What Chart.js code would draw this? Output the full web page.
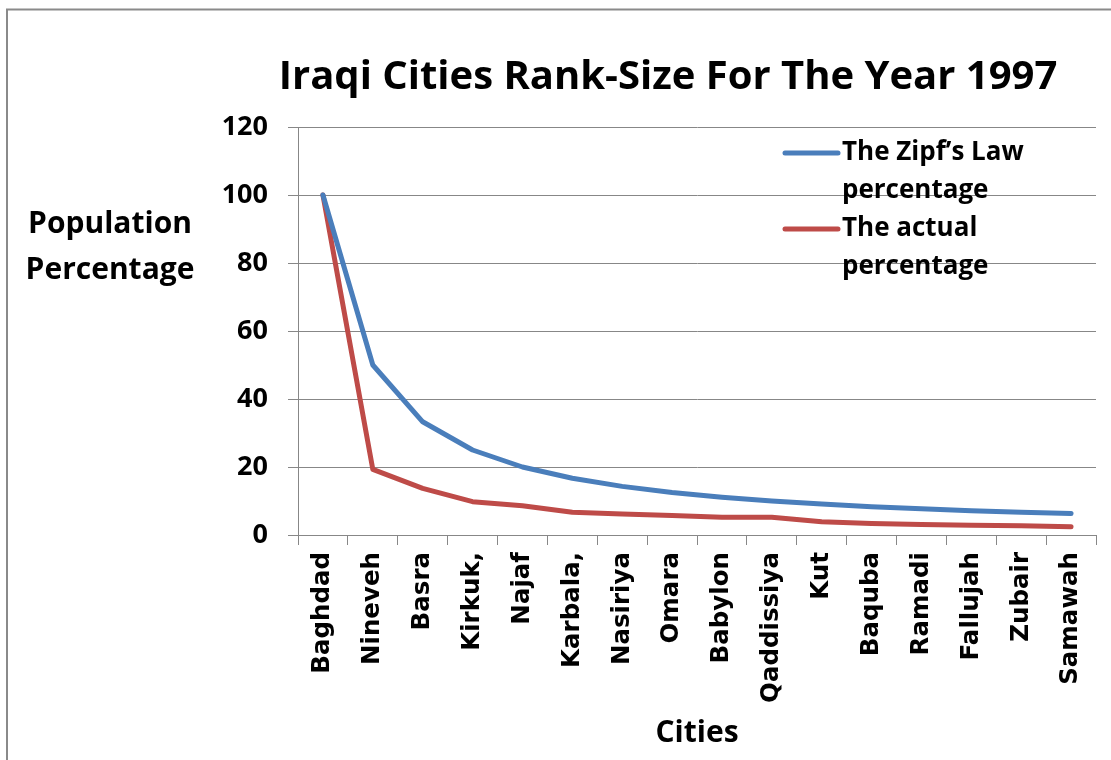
<!DOCTYPE html>
<html>
<head>
<meta charset="utf-8">
<title>Iraqi Cities Rank-Size 1997</title>
<script src="https://cdn.jsdelivr.net/npm/chart.js@4.4.1/dist/chart.umd.min.js"></script>
<style>
  html, body { margin: 0; padding: 0; background: #fff; }
  #wrap { position: relative; width: 1111px; height: 760px; }
</style>
</head>
<body>
<div id="wrap"><canvas id="chart" width="1111" height="760"></canvas></div>
<script>
// data
const cities = ['Baghdad', 'Nineveh', 'Basra', 'Kirkuk,', 'Najaf', 'Karbala,', 'Nasiriya', 'Omara',
  'Babylon', 'Qaddissiya', 'Kut', 'Baquba', 'Ramadi', 'Fallujah', 'Zubair', 'Samawah'];
const zipfPct = [100, 50, 33.3, 25, 20, 16.7, 14.3, 12.5, 11.1, 10, 9.1, 8.3, 7.7, 7.1, 6.7, 6.3];
const actualPct = [100, 19.3, 13.7, 9.8, 8.6, 6.7, 6.2, 5.7, 5.2, 5.2, 3.9, 3.4, 3.1, 2.9, 2.7, 2.4];
const yTicks = [0, 20, 40, 60, 80, 100, 120];

const seriesNames = [['The Zipf\u2019s Law', 'percentage'], ['The actual', 'percentage']];
const seriesColors = ['#4A7EBB', '#BE4B48'];

const FONT = '"Open Sans", Lato, sans-serif';
const WIDE = '"DejaVu Sans", Verdana, sans-serif';
const GRID = '#878787';

// title, horizontal y-axis title, legend and frame drawn like Excel does
const excelDecor = {
  id: 'excelDecor',
  beforeDraw(chart) {
    const ctx = chart.ctx;
    ctx.save();
    ctx.strokeStyle = '#8a8a8a';
    ctx.lineWidth = 2;
    ctx.beginPath();
    ctx.moveTo(7, 770);
    ctx.lineTo(7, 9.5);
    ctx.lineTo(1120, 9.5);
    ctx.stroke();
    ctx.restore();
  },
  afterDatasetsDraw(chart) {
    const ctx = chart.ctx;
    const area = chart.chartArea;
    ctx.save();
    ctx.fillStyle = '#000';
    ctx.textBaseline = 'middle';

    // chart title
    ctx.font = 'bold 40px ' + FONT;
    ctx.textAlign = 'center';
    ctx.fillText('Iraqi Cities Rank-Size For The Year 1997', 668, 78);

    // y axis title, written horizontally
    ctx.font = 'bold 30px ' + FONT;
    ctx.fillText('Population', 110, 224);
    ctx.fillText('Percentage', 110, 270);

    // legend
    ctx.font = 'bold 26px ' + FONT;
    ctx.textAlign = 'left';
    const rowY = [153, 229];
    seriesNames.forEach((lines, i) => {
      ctx.strokeStyle = seriesColors[i];
      ctx.lineWidth = 5;
      ctx.lineCap = 'round';
      ctx.beginPath();
      ctx.moveTo(area.left + 487, rowY[i]);
      ctx.lineTo(area.left + 540, rowY[i]);
      ctx.stroke();
      lines.forEach((t, j) => ctx.fillText(t, area.left + 544, rowY[i] + j * 38));
    });
    ctx.restore();
  }
};

new Chart(document.getElementById('chart'), {
  type: 'line',
  data: {
    labels: cities,
    datasets: [
      { label: 'The Zipf\u2019s Law percentage', data: zipfPct, borderColor: seriesColors[0] },
      { label: 'The actual percentage', data: actualPct, borderColor: seriesColors[1] }
    ]
  },
  options: {
    responsive: false,
    devicePixelRatio: 1,
    animation: false,
    layout: { padding: { top: 127, left: 0, right: 15, bottom: 0 } },
    elements: {
      line: { borderWidth: 5, tension: 0, borderCapStyle: 'round', borderJoinStyle: 'round', fill: false },
      point: { radius: 0, hoverRadius: 0 }
    },
    plugins: { legend: { display: false }, title: { display: false }, tooltip: { enabled: false } },
    scales: {
      x: {
        offset: true,
        grid: { offset: true, drawOnChartArea: false, color: GRID, tickLength: 10 },
        border: { color: GRID, width: 1 },
        ticks: { color: '#000', font: { family: WIDE, weight: 'bold', size: 24.5 }, minRotation: 90, maxRotation: 90, padding: 7, autoSkip: false },
        title: { display: true, text: 'Cities', color: '#000', font: { family: FONT, weight: 'bold', size: 30 }, padding: { bottom: 9 } },
        afterFit(scale) { scale.height = 225; }
      },
      y: {
        min: 0, max: 120,
        afterBuildTicks(scale) { scale.ticks = yTicks.map(v => ({ value: v })); },
        grid: { color: GRID, tickLength: 10 },
        border: { color: GRID, width: 1 },
        ticks: { color: '#000', font: { family: FONT, weight: 'bold', size: 27 }, padding: 20 },
        afterFit(scale) { scale.width = 298; }
      }
    }
  },
  plugins: [excelDecor]
});
</script>
</body>
</html>
